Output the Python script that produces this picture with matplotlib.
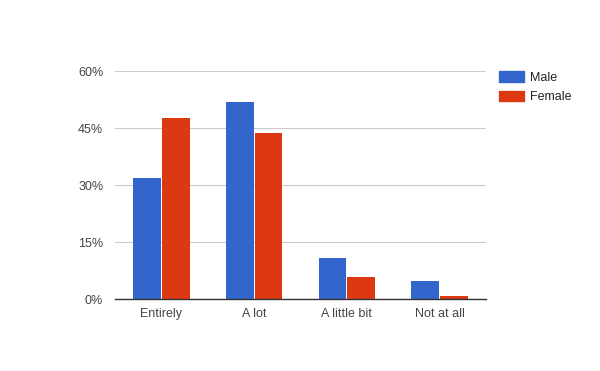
import numpy as np
import matplotlib.pyplot as plt
from matplotlib.patches import Patch

categories = ["Entirely", "A lot", "A little bit", "Not at all"]
male = [31.9, 51.9, 10.9, 4.8]
female = [47.7, 43.8, 5.9, 0.9]
yticks = [0, 15, 30, 45, 60]

blue = "#3366cc"
red = "#dc3912"
txt = "#444444"

plt.rcParams["font.family"] = ["Liberation Sans", "DejaVu Sans"]

fig = plt.figure(figsize=(6, 3.71), dpi=100)
ax = fig.add_axes([115 / 600, 71.7 / 371, 371 / 600, 228 / 371])

x = np.arange(len(categories))
w = 0.30
ax.bar(x - w / 2 - 0.005, male, w, color=blue, zorder=3)
ax.bar(x + w / 2 + 0.005, female, w, color=red, zorder=3)

ax.set_xlim(-0.5, 3.5)
ax.set_ylim(0, 60)
ax.set_yticks(yticks)
ax.set_yticklabels([f"{t}%" for t in yticks])
ax.set_xticks(x)
ax.set_xticklabels(categories)
ax.tick_params(axis="both", length=0, labelsize=9, labelcolor=txt)
ax.tick_params(axis="y", pad=8.5)
ax.tick_params(axis="x", pad=6)

ax.grid(axis="y", color="#cccccc", linewidth=0.8, zorder=0)
for s in ["top", "right", "left"]:
    ax.spines[s].set_visible(False)
ax.spines["bottom"].set_color("#333333")
ax.spines["bottom"].set_linewidth(1)
ax.spines["bottom"].set_zorder(4)

handles = [Patch(color=blue, label="Male"), Patch(color=red, label="Female")]
fig.legend(handles=handles, loc="upper left", bbox_to_anchor=(494 / 600, 1 - 66 / 371),
           frameon=False, fontsize=9, labelcolor="#222222", handlelength=2.0,
           handleheight=0.95, handletextpad=0.45, labelspacing=0.55, borderaxespad=0)

fig.savefig("out.png", dpi=100)
